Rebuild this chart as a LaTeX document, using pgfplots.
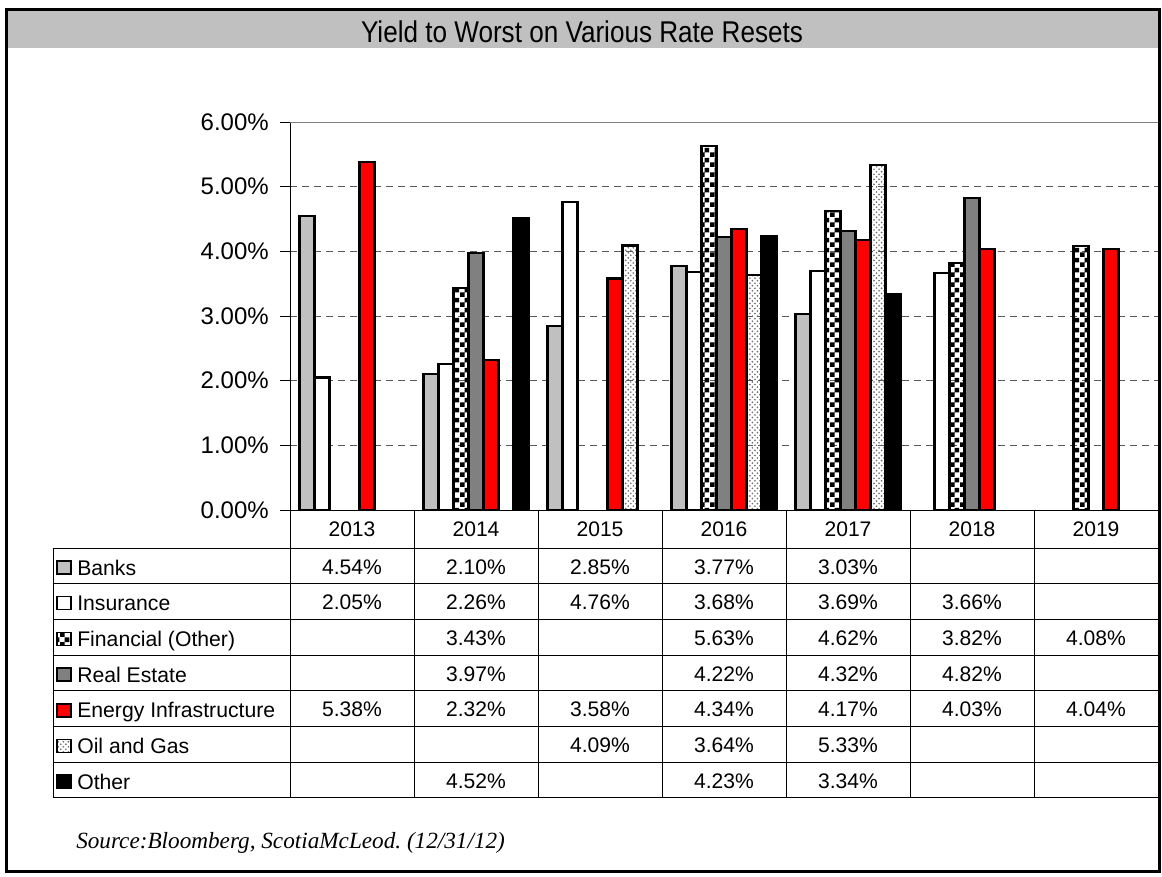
\documentclass[border=0pt]{standalone}
\usepackage{fontspec}
\setmainfont{Liberation Sans}
\newfontfamily\srcfont{Liberation Serif}
\usepackage{pgfplots}
\pgfplotsset{compat=1.18}
\usetikzlibrary{patterns}
\frenchspacing

\definecolor{banks}{RGB}{192,192,192}
\definecolor{realest}{RGB}{128,128,128}
\definecolor{energy}{RGB}{255,0,0}
\definecolor{gridc}{RGB}{90,90,90}
\definecolor{dotc}{RGB}{110,110,110}

% checkerboard with larger squares than the stock one
\pgfdeclarepatternformonly{bigchecker}{\pgfpointorigin}{\pgfqpoint{7.5pt}{7.5pt}}{\pgfqpoint{7.5pt}{7.5pt}}{%
  \pgfpathrectangle{\pgfpointorigin}{\pgfqpoint{3.75pt}{3.75pt}}%
  \pgfpathrectangle{\pgfqpoint{3.75pt}{3.75pt}}{\pgfqpoint{3.75pt}{3.75pt}}%
  \pgfusepath{fill}}
% light staggered dots for oil and gas
\pgfdeclarepatternformonly{finedots}{\pgfqpoint{-0.8pt}{-0.8pt}}{\pgfqpoint{2.7pt}{2.7pt}}{\pgfqpoint{3.8pt}{3.8pt}}{%
  \pgfpathcircle{\pgfpointorigin}{0.7pt}%
  \pgfpathcircle{\pgfqpoint{1.9pt}{1.9pt}}{0.7pt}%
  \pgfusepath{fill}}

\tikzset{
  keybox/.style={draw=black, line width=1.1pt},
}

\begin{document}
\begin{tikzpicture}
\path[use as bounding box] (0,0) rectangle (871.5pt,-657pt);

% title bar
\begin{scope}[x=0.75pt,y=-0.75pt]
\fill[banks] (7,10) rectangle (1158,48);
\node[anchor=base, xscale=0.87, inner sep=0pt, font=\fontsize{22.5}{25}\selectfont] at (582,42) {Yield to Worst on Various Rate Resets};
\end{scope}

\begin{axis}[
  at={(217.5pt,-382.5pt)}, anchor=south west,
  scale only axis,
  width=651pt, height=291pt,
  xmin=-0.5, xmax=6.5,
  ymin=0, ymax=6,
  ybar=0pt, bar width=11.25pt,
  axis line style={draw=none},
  xtick=\empty,
  ytick={0,1,2,3,4,5,6},
  yticklabels={0.00\%,1.00\%,2.00\%,3.00\%,4.00\%,5.00\%,6.00\%},
  ytick pos=left,
  tick align=outside,
  major tick length=7.5pt,
  tick style={black, line width=0.75pt},
  yticklabel style={font=\fontsize{18}{20}\selectfont, inner sep=0pt, xshift=-8.25pt},
  /pgf/number format/assume math mode=true,
  ymajorgrids=true,
  grid style={gridc, line width=0.75pt, dash pattern=on 5.25pt off 3.75pt},
]

% Banks
\addplot[fill=banks, draw=black, line width=1.6pt]
  coordinates {(0,4.54)(1,2.10)(2,2.85)(3,3.77)(4,3.03)};
% Insurance
\addplot[fill=white, draw=black, line width=1.6pt]
  coordinates {(0,2.05)(1,2.26)(2,4.76)(3,3.68)(4,3.69)(5,3.66)};
% Financial (Other)
\addplot[pattern=bigchecker, pattern color=black, draw=black, line width=1.6pt]
  coordinates {(1,3.43)(3,5.63)(4,4.62)(5,3.82)(6,4.08)};
% Real Estate
\addplot[fill=realest, draw=black, line width=1.6pt]
  coordinates {(1,3.97)(3,4.22)(4,4.32)(5,4.82)};
% Energy Infrastructure
\addplot[fill=energy, draw=black, line width=1.6pt]
  coordinates {(0,5.38)(1,2.32)(2,3.58)(3,4.34)(4,4.17)(5,4.03)(6,4.04)};
% Oil and Gas
\addplot[pattern=finedots, pattern color=dotc, draw=black, line width=1.6pt]
  coordinates {(2,4.09)(3,3.64)(4,5.33)};
% Other
\addplot[fill=black, draw=black, line width=1.6pt]
  coordinates {(1,4.52)(3,4.23)(4,3.34)};

\draw[black, line width=0.75pt] (rel axis cs:0,0) -- (rel axis cs:0,1);
\draw[black, line width=0.75pt] (rel axis cs:0,0) -- (rel axis cs:1,0);
\draw[realest, line width=1.5pt] (rel axis cs:0,1) -- (rel axis cs:1,1);
\end{axis}

% data table below the plot
\begin{scope}[x=0.75pt,y=-0.75pt]
\foreach \r in {0,...,7} {
  \pgfmathsetmacro{\yy}{548+35.7*\r}
  \draw[line width=0.75pt] (53,\yy) -- (1158,\yy);
}
\draw[line width=0.75pt] (53,548) -- (53,797.9);
\foreach \c in {0,...,7} {
  \draw[line width=0.75pt] (290+124*\c,510) -- (290+124*\c,797.9);
}
\foreach \c/\yr in {0/2013,1/2014,2/2015,3/2016,4/2017,5/2018,6/2019} {
  \node[anchor=base, inner sep=0pt, font=\fontsize{15.8}{17}\selectfont] at (352+124*\c,536) {\yr};
}
% legend keys and row labels
\foreach \r/\lab in {0/Banks,1/Insurance,2/Financial (Other),3/Real Estate,4/Energy Infrastructure,5/Oil and Gas,6/Other} {
  \pgfmathsetmacro{\rt}{548+35.7*\r}
  \node[anchor=base west, inner sep=0pt, font=\fontsize{15.9}{17}\selectfont] at (77,\rt+27) {\lab};
}
\draw[keybox, fill=banks]   (57,561) rectangle (71,574);
\draw[keybox, fill=white]   (57,596.7) rectangle (71,609.7);
\draw[keybox, pattern=bigchecker] (57,632.4) rectangle (71,645.4);
\draw[keybox, fill=realest] (57,668.1) rectangle (71,681.1);
\draw[keybox, fill=energy]  (57,703.8) rectangle (71,716.8);
\draw[keybox, pattern=finedots, pattern color=dotc] (57,739.5) rectangle (71,752.5);
\draw[keybox, fill=black]   (57,775.2) rectangle (71,788.2);
% cell values: row/column/text
\foreach \r/\c/\v in {
  0/0/4.54,0/1/2.10,0/2/2.85,0/3/3.77,0/4/3.03,
  1/0/2.05,1/1/2.26,1/2/4.76,1/3/3.68,1/4/3.69,1/5/3.66,
  2/1/3.43,2/3/5.63,2/4/4.62,2/5/3.82,2/6/4.08,
  3/1/3.97,3/3/4.22,3/4/4.32,3/5/4.82,
  4/0/5.38,4/1/2.32,4/2/3.58,4/3/4.34,4/4/4.17,4/5/4.03,4/6/4.04,
  5/2/4.09,5/3/3.64,5/4/5.33,
  6/1/4.52,6/3/4.23,6/4/3.34} {
  \pgfmathsetmacro{\rt}{548+35.7*\r}
  \node[anchor=base, inner sep=0pt, font=\fontsize{15.8}{17}\selectfont] at (352+124*\c,\rt+26) {\v\%};
}
\node[anchor=base west, inner sep=0pt, font=\srcfont\itshape\fontsize{17.4}{19}\selectfont] at (76,848) {Source:Bloomberg, ScotiaMcLeod. (12/31/12)};
% outer frame
\draw[line width=2.25pt] (6.5,9) rectangle (1159,871);
\end{scope}
\end{tikzpicture}
\end{document}
